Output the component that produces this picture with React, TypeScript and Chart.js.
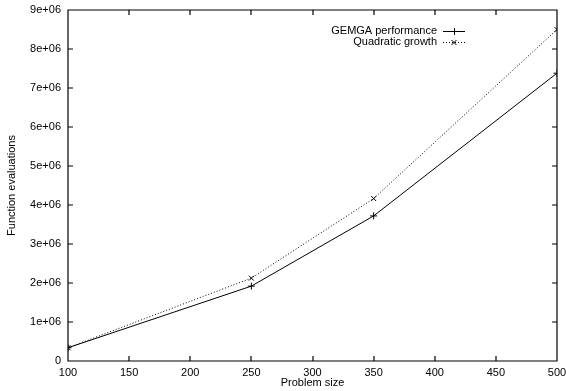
import React, { useEffect, useRef } from "react";
import { Chart, registerables } from "chart.js";

Chart.register(...registerables);

const problemSizes = [100, 250, 350, 500];
const gemgaEvals = [340000, 1920000, 3720000, 7380000];
const quadraticEvals = [340000, 2125000, 4165000, 8500000];
const seriesNames = ["GEMGA performance", "Quadratic growth"];
const xTitle = "Problem size";
const yTitle = "Function evaluations";

const FONT = "'Liberation Sans', Arial, Helvetica, sans-serif";

const framePlugin = {
  id: "gnuframe",
  afterDraw(chart: any) {
    const ctx = chart.ctx;
    const x = chart.scales.x;
    const y = chart.scales.y;
    const L = Math.round(x.left);
    const R = Math.round(x.right);
    const T = Math.round(y.top);
    const B = Math.round(y.bottom);
    ctx.save();
    ctx.strokeStyle = "#000000";
    ctx.lineWidth = 1.2;
    ctx.setLineDash([]);
    ctx.beginPath();
    ctx.moveTo(L, T);
    ctx.lineTo(R, T);
    ctx.lineTo(R, B);
    ctx.lineTo(L, B);
    ctx.closePath();
    const tl = 5;
    x.ticks.forEach((t: any) => {
      const px = Math.round(x.getPixelForValue(t.value));
      ctx.moveTo(px, B);
      ctx.lineTo(px, B - tl);
      ctx.moveTo(px, T);
      ctx.lineTo(px, T + tl);
    });
    y.ticks.forEach((t: any) => {
      const py = Math.round(y.getPixelForValue(t.value));
      ctx.moveTo(L, py);
      ctx.lineTo(L + tl, py);
      ctx.moveTo(R, py);
      ctx.lineTo(R - tl, py);
    });
    ctx.stroke();

    // legend (gnuplot style, top right)
    ctx.lineWidth = 1;
    ctx.fillStyle = "#000000";
    ctx.font = "11px " + FONT;
    ctx.textAlign = "right";
    ctx.textBaseline = "middle";
    const tx = 437;
    const rows = [31, 42];
    const x0 = 443;
    const x1 = 465;
    const xm = 454;
    chart.data.datasets.forEach((ds: any, i: number) => {
      const ry = rows[i] + 0.5;
      ctx.fillText(ds.label, tx, rows[i]);
      ctx.beginPath();
      ctx.setLineDash(ds.borderDash || []);
      ctx.moveTo(x0, ry);
      ctx.lineTo(x1, ry);
      ctx.stroke();
      ctx.setLineDash([]);
      ctx.beginPath();
      if (i === 0) {
        ctx.moveTo(xm - 3, ry);
        ctx.lineTo(xm + 4, ry);
        ctx.moveTo(xm + 0.5, ry - 3.5);
        ctx.lineTo(xm + 0.5, ry + 3.5);
      } else {
        ctx.moveTo(xm - 2.5, ry - 2.5);
        ctx.lineTo(xm + 2.5, ry + 2.5);
        ctx.moveTo(xm - 2.5, ry + 2.5);
        ctx.lineTo(xm + 2.5, ry - 2.5);
      }
      ctx.stroke();
    });
    ctx.restore();
  },
};

export default function App() {
  const ref = useRef<HTMLCanvasElement>(null);
  useEffect(() => {
    if (!ref.current) return;
    const chart = new Chart(ref.current, {
      type: "line",
      data: {
        datasets: [
          {
            label: seriesNames[0],
            data: problemSizes.map((v, i) => ({ x: v, y: gemgaEvals[i] })),
            borderColor: "#000",
            backgroundColor: "#000",
            borderWidth: 1,
            pointStyle: "cross",
            pointRadius: 3.5,
            pointBorderWidth: 1,
            pointBorderColor: "#000",
            tension: 0,
            fill: false,
          },
          {
            label: seriesNames[1],
            data: problemSizes.map((v, i) => ({ x: v, y: quadraticEvals[i] })),
            borderColor: "#000",
            backgroundColor: "#000",
            borderWidth: 1,
            borderDash: [1, 2],
            pointStyle: "crossRot",
            pointRadius: 3.5,
            pointBorderWidth: 1,
            pointBorderColor: "#000",
            tension: 0,
            fill: false,
          },
        ],
      },
      options: {
        responsive: false,
        animation: false,
        devicePixelRatio: 1,
        layout: { padding: { top: 10, right: 9, left: 0, bottom: 0 } },
        plugins: {
          legend: { display: false },
          tooltip: { enabled: false },
        },
        scales: {
          x: {
            type: "linear",
            min: 100,
            max: 500,
            grid: { display: false, drawTicks: false },
            border: { display: false },
            ticks: {
              stepSize: 50,
              color: "#000",
              padding: 5,
              maxRotation: 0,
              font: { family: FONT, size: 11 },
            },
            title: {
              display: true,
              text: xTitle,
              color: "#000",
              padding: { top: 0, bottom: 1 },
              font: { family: FONT, size: 11 },
            },
            afterFit(scale: any) {
              scale.height = 30;
              scale.paddingLeft = 0;
              scale.paddingRight = 0;
            },
          },
          y: {
            type: "linear",
            min: 0,
            max: 9000000,
            grid: { display: false, drawTicks: false },
            border: { display: false },
            ticks: {
              stepSize: 1000000,
              color: "#000",
              padding: 7,
              font: { family: FONT, size: 11 },
              callback: (v: any) => (v === 0 ? "0" : v / 1000000 + "e+06"),
            },
            title: {
              display: true,
              text: yTitle,
              color: "#000",
              padding: { top: 5, bottom: 0 },
              font: { family: FONT, size: 11 },
            },
            afterFit(scale: any) {
              scale.width = 68;
              scale.paddingTop = 0;
              scale.paddingBottom = 0;
            },
          },
        },
      },
      plugins: [framePlugin],
    });
    return () => chart.destroy();
  }, []);
  return (
    <div style={{ position: "fixed", left: 0, top: 0, width: 566, height: 391, background: "#fff" }}>
      <canvas ref={ref} width={566} height={391} />
    </div>
  );
}
